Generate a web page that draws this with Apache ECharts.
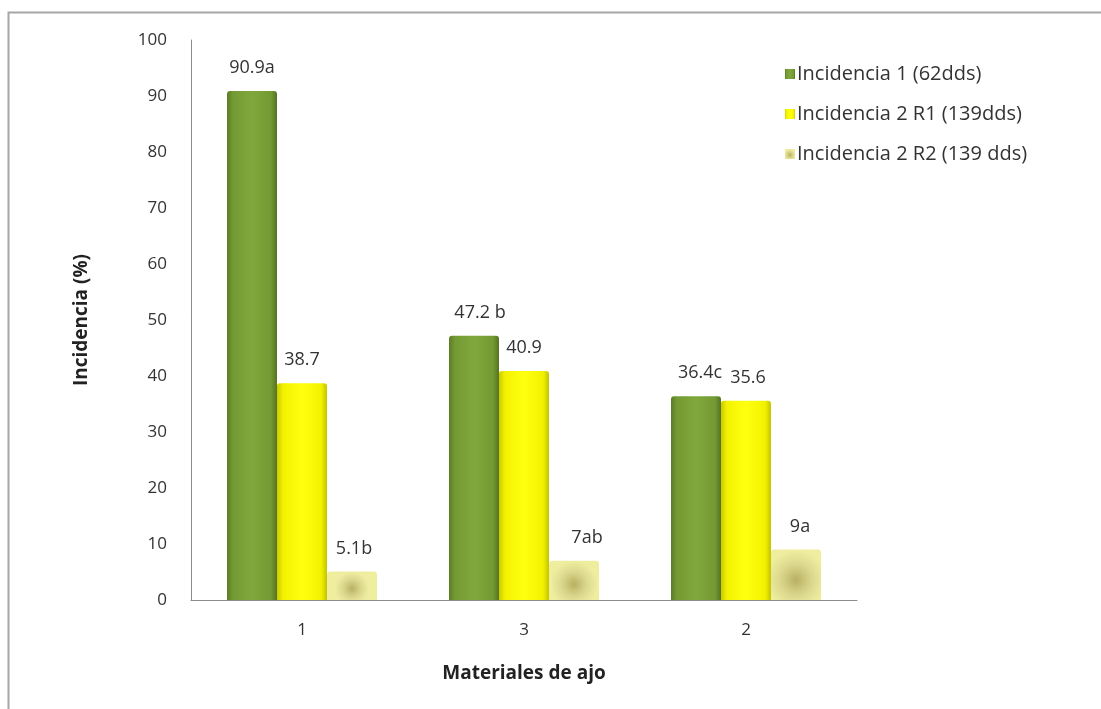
<!DOCTYPE html>
<html>
<head>
<meta charset="utf-8">
<script src="https://cdn.jsdelivr.net/npm/echarts@6/dist/echarts.min.js"></script>
<style>
  html, body { margin: 0; padding: 0; background: #fff; }
  #chart { width: 1101px; height: 709px; }
</style>
</head>
<body>
<div id="chart"></div>
<script>
// Garlic materials and incidence per evaluation
const categories = ['1', '3', '2'];
const seriesNames = ['Incidencia 1 (62dds)', 'Incidencia 2 R1 (139dds)', 'Incidencia 2 R2 (139 dds)'];
const incidencia1 = [90.9, 47.2, 36.4];
const incidencia2R1 = [38.7, 40.9, 35.6];
const incidencia2R2 = [5.1, 7, 9];
// Significance letters shown after each value
const letras1 = ['a', ' b', 'c'];
const letras2R1 = ['', '', ''];
const letras2R2 = ['b', 'ab', 'a'];
const yTicks = [0, 10, 20, 30, 40, 50, 60, 70, 80, 90, 100];

const FONT = '"Open Sans", "DejaVu Sans", sans-serif';

function hGrad(stops) {
  return {
    type: 'linear', x: 0, y: 0, x2: 1, y2: 0,
    colorStops: stops.map(([o, c]) => ({ offset: o, color: c }))
  };
}

const greenFill = hGrad([[0, '#5d7c27'], [0.12, '#739a33'], [0.5, '#7fa83c'], [0.88, '#739a33'], [1, '#55731f']]);
const yellowFill = hGrad([[0, '#caca00'], [0.12, '#f2f200'], [0.5, '#ffff10'], [0.88, '#f2f200'], [1, '#c4c400']]);
const paleFill = {
  type: 'radial', x: 0.5, y: 0.6, r: 0.6,
  colorStops: [
    { offset: 0, color: '#b8b062' },
    { offset: 0.55, color: '#dcd98e' },
    { offset: 1, color: '#efee9f' }
  ]
};

// per-item horizontal label nudges to keep neighbouring labels apart
const labelShift1 = [0, 6, 4];
const labelShift2 = [0, 0, 2];
const labelShift3 = [2, 13, 4];

function buildData(values, letters, shifts) {
  return values.map((v, i) => ({
    value: v,
    label: { formatter: String(v) + letters[i], offset: [shifts[i], 0] }
  }));
}

const labelStyle = {
  show: true,
  position: 'top',
  distance: 14,
  color: '#333',
  fontSize: 18,
  fontFamily: FONT
};

const chart = echarts.init(document.getElementById('chart'), null, { renderer: 'canvas' });

chart.setOption({
  backgroundColor: '#fff',
  animation: false,
  graphic: [{
    type: 'rect',
    shape: { x: 8.5, y: 12.5, width: 1200, height: 800 },
    style: { fill: 'none', stroke: '#a6a6a6', lineWidth: 2 },
    silent: true
  }],
  legend: {
    orient: 'vertical',
    left: 780,
    top: 59,
    itemWidth: 10,
    itemHeight: 10,
    itemGap: 20,
    icon: 'rect',
    textStyle: { color: '#333', fontSize: 20, fontFamily: FONT, padding: [0, 0, 0, -3] },
    data: seriesNames
  },
  grid: { left: 191, right: 244, top: 40, bottom: 109, containLabel: false },
  xAxis: {
    type: 'category',
    data: categories,
    name: 'Materiales de ajo',
    nameLocation: 'middle',
    nameGap: 64,
    nameTextStyle: { color: '#222', fontSize: 19, fontWeight: 'bold', fontFamily: FONT },
    axisLine: { lineStyle: { color: '#8c8c8c', width: 1 } },
    axisTick: { show: false },
    axisLabel: { color: '#333', fontSize: 17, margin: 22, fontFamily: FONT }
  },
  yAxis: {
    type: 'value',
    min: yTicks[0],
    max: yTicks[yTicks.length - 1],
    interval: 10,
    name: 'Incidencia (%)',
    nameLocation: 'middle',
    nameGap: 100,
    nameRotate: 90,
    nameTextStyle: { color: '#222', fontSize: 19, fontWeight: 'bold', fontFamily: FONT },
    axisLine: { show: true, lineStyle: { color: '#8c8c8c', width: 1 } },
    axisTick: { show: false },
    splitLine: { show: false },
    axisLabel: { color: '#333', fontSize: 17, margin: 24, fontFamily: FONT }
  },
  series: [
    {
      name: seriesNames[0],
      type: 'bar',
      barWidth: 50,
      barGap: '0%',
      data: buildData(incidencia1, letras1, labelShift1),
      itemStyle: { color: greenFill, borderRadius: [3, 3, 0, 0] },
      label: labelStyle
    },
    {
      name: seriesNames[1],
      type: 'bar',
      barWidth: 50,
      barGap: '0%',
      data: buildData(incidencia2R1, letras2R1, labelShift2),
      itemStyle: { color: yellowFill, borderRadius: [3, 3, 0, 0] },
      label: labelStyle
    },
    {
      name: seriesNames[2],
      type: 'bar',
      barWidth: 50,
      barGap: '0%',
      data: buildData(incidencia2R2, letras2R2, labelShift3),
      itemStyle: { color: paleFill, borderRadius: [3, 3, 0, 0] },
      label: labelStyle
    }
  ]
});
</script>
</body>
</html>
